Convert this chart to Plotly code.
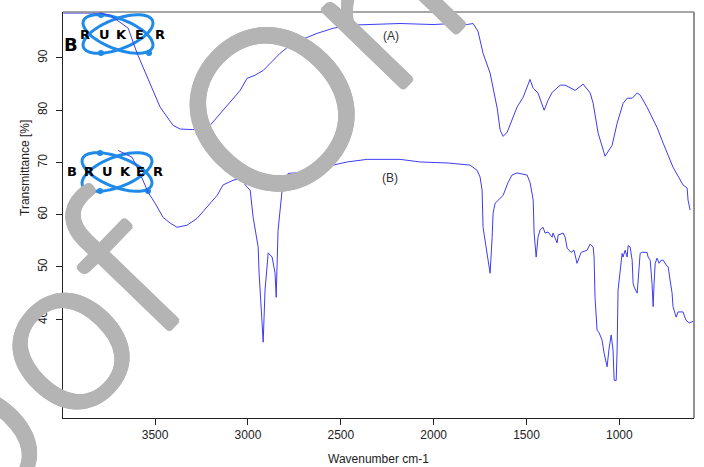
import numpy as np
import plotly.graph_objects as go

# ---- spectrum (A) : wavenumber (cm-1) / transmittance (%) ----
wn_a = [3995, 3900, 3796, 3742, 3645, 3597, 3527, 3473, 3403, 3365, 3300, 3242, 3204,
        3134, 3042, 3005, 2962, 2918, 2865, 2827, 2789, 2719, 2628, 2541, 2434, 2288,
        2181, 2003, 1895, 1820, 1788, 1761, 1734, 1696, 1680, 1658, 1642, 1626, 1604,
        1578, 1551, 1518, 1497, 1481, 1464, 1438, 1405, 1384, 1362, 1319, 1292, 1238,
        1195, 1157, 1141, 1114, 1077, 1039, 1012, 980, 958, 931, 904, 888, 851, 797,
        764, 711, 657, 635, 630, 619]
t_a = [98.6, 98.6, 98.6, 98.2, 95.7, 90.9, 85.2, 80.6, 77.1, 76.4, 76.3, 76.4, 77.1,
       80.0, 83.8, 86.1, 86.7, 87.6, 89.6, 90.9, 92.0, 93.4, 94.7, 95.7, 96.3, 96.4,
       96.6, 96.4, 96.6, 96.4, 96.6, 95.1, 90.9, 87.1, 84.4, 80.4, 76.2, 75.0, 75.8,
       78.1, 80.6, 82.5, 84.4, 85.9, 84.2, 83.3, 80.0, 81.9, 83.4, 84.8, 84.8, 83.8,
       85.0, 83.3, 81.3, 75.6, 71.2, 73.3, 77.5, 81.3, 82.3, 82.3, 83.3, 82.9, 80.6, 76.7,
       73.7, 69.1, 65.7, 65.1, 62.8, 60.9]

# ---- spectrum (B) ----
wn_b = [3699, 3624, 3581, 3538, 3500, 3457, 3419, 3382, 3328, 3274, 3220, 3166, 3134,
        3080, 3032, 3015, 2988, 2972, 2945, 2940, 2924, 2918, 2908, 2891, 2870, 2854,
        2848, 2838, 2816, 2784, 2719, 2628, 2541, 2466, 2358, 2181, 2073, 1922, 1804,
        1766, 1750, 1739, 1734, 1723, 1701, 1696, 1685, 1680, 1669, 1653, 1626, 1599,
        1578, 1551, 1497, 1481, 1464, 1459, 1448, 1438, 1427, 1411, 1400, 1384, 1362,
        1357, 1335, 1330, 1303, 1292, 1281, 1260, 1244, 1228, 1222, 1206, 1174, 1157,
        1141, 1136, 1131, 1120, 1109, 1093, 1082, 1066, 1055, 1044, 1034, 1028, 1017,
        1012, 1007, 996, 985, 980, 969, 958, 953, 942, 931, 926, 921, 904, 899, 888,
        877, 851, 845, 834, 824, 818, 813, 807, 797, 786, 775, 764, 748, 737, 727,
        716, 711, 694, 684, 657, 641, 624, 603]
t_b = [72.3, 71.0, 67.9, 64.3, 62.2, 59.5, 58.4, 57.6, 58.0, 59.3, 61.5, 63.7, 65.7,
       66.6, 67.0, 65.7, 64.7, 59.5, 53.8, 48.8, 39.3, 35.6, 45.6, 52.7, 51.9, 48.8,
       44.2, 57.0, 64.7, 67.9, 68.1, 68.9, 69.5, 70.1, 70.6, 70.6, 70.1, 69.9, 69.5,
       68.5, 67.2, 64.7, 57.6, 55.1, 50.7, 48.8, 55.7, 60.3, 62.2, 62.8, 63.7, 66.2,
       67.6, 68.0, 67.6, 66.2, 62.8, 56.5, 51.9, 55.7, 57.1, 57.6, 56.5, 56.7, 55.7,
       56.5, 54.6, 56.1, 56.5, 55.7, 53.6, 52.8, 53.2, 50.7, 51.3, 52.8, 53.2, 54.4,
       53.8, 51.9, 44.2, 37.9, 37.4, 36.0, 33.5, 30.9, 34.5, 37.0, 34.1, 28.3, 28.3,
       34.1, 45.6, 49.4, 52.6, 51.9, 53.2, 51.9, 54.1, 53.8, 51.3, 46.9, 46.2, 45.0, 46.9, 52.6,
       52.8, 52.8, 51.9, 51.3, 46.9, 42.4, 46.9, 50.7, 51.7, 50.7, 51.3, 51.3, 50.4, 50.0, 47.5,
       45.0, 42.4, 40.4, 41.4, 41.4, 39.8, 39.3, 39.6]

x_ticks = [3500, 3000, 2500, 2000, 1500, 1000]
y_ticks = [40, 50, 60, 70, 80, 90]
x_range = [3996, 598]
y_range = [21.1, 98.8]

W, H = 704, 467
ML, MR, MT, MB = 63, 10, 12, 49
PW, PH = W - ML - MR, H - MT - MB


def paper(xp, yp):
    """Screen pixel -> paper coordinates."""
    return (xp - ML) / PW, (H - MB - yp) / PH


line_col = "#3d3df2"
fig = go.Figure()
fig.add_trace(go.Scatter(x=wn_a, y=t_a, mode="lines", line=dict(color=line_col, width=1),
                         showlegend=False, hoverinfo="skip"))
fig.add_trace(go.Scatter(x=wn_b, y=t_b, mode="lines", line=dict(color=line_col, width=1),
                         showlegend=False, hoverinfo="skip"))

shapes = []
# grey frame on top and right
shapes.append(dict(type="line", xref="paper", yref="paper", x0=0, x1=1, y0=1, y1=1,
                   line=dict(color="#8a8a8a", width=1.5), layer="above"))
shapes.append(dict(type="line", xref="paper", yref="paper", x0=1, x1=1, y0=0, y1=1,
                   line=dict(color="#6e6e6e", width=1.5), layer="above"))


# Bruker atom logos: two tilted orbits with a couple of electrons
def ellipse_path(cx, cy, a, b, phi):
    t = np.linspace(0, 2 * np.pi, 60)
    c, s = np.cos(np.radians(phi)), np.sin(np.radians(phi))
    xs = cx + a * np.cos(t) * c - b * np.sin(t) * s
    ys = cy + a * np.cos(t) * s + b * np.sin(t) * c
    pts = [paper(x, y) for x, y in zip(xs, ys)]
    return "M " + " L ".join(f"{px:.5f},{py:.5f}" for px, py in pts) + " Z"


logo_col = "#1f8ae8"
for cx, cy in [(118, 34), (117, 172)]:
    for phi in (21, -21):
        shapes.append(dict(type="path", xref="paper", yref="paper",
                           path=ellipse_path(cx, cy, 37, 15, phi),
                           line=dict(color=logo_col, width=3), layer="below"))
    for dx, dy in [(-17, 19), (31, 19), (-17, -19)]:
        x0, y0 = paper(cx + dx - 3, cy + dy - 3)
        x1, y1 = paper(cx + dx + 3, cy + dy + 3)
        shapes.append(dict(type="circle", xref="paper", yref="paper",
                           x0=x0, x1=x1, y0=y0, y1=y1, fillcolor=logo_col,
                           line=dict(width=0), layer="below"))

annotations = []


def txt(xp, yp, s, size, color="black", family="Liberation Sans", angle=0, bold=False,
        **font_extra):
    x, y = paper(xp, yp)
    font = dict(family=family, size=size, color=color, **font_extra)
    annotations.append(dict(xref="paper", yref="paper", x=x, y=y, text=f"<b>{s}</b>" if bold else s,
                            showarrow=False, xanchor="center", yanchor="middle", textangle=angle,
                            font=font))


# BRUKER lettering
for ch, xp in zip("RUKER", [85, 104, 121, 139, 160]):
    txt(xp, 34, ch, 13, family="DejaVu Sans", bold=True)
txt(71, 45, "B", 18, family="DejaVu Sans", bold=True)
for ch, xp in zip("BRUKER", [72, 89, 107, 125, 140, 158]):
    txt(xp, 171, ch, 13, family="DejaVu Sans", bold=True)

# spectrum labels
annotations.append(dict(x=2229, y=94.3, xref="x", yref="y", text="(A)", showarrow=False,
                        font=dict(family="Liberation Sans", size=12, color="#333")))
annotations.append(dict(x=2235, y=67.0, xref="x", yref="y", text="(B)", showarrow=False,
                        font=dict(family="Liberation Sans", size=12, color="#333")))

# axis titles
txt(25, 168, "Transmittance [%]", 12, color="#222", angle=-90)
txt(378, 459, "Wavenumber cm-1", 12, color="#222")

# diagonal "Proof Only" stamp, laid out glyph by glyph along a 46 degree baseline;
# a ring of hard shadows thickens the light strokes a little
stamp_col = "#b4b4b4"
ring = ", ".join(f"{3 * np.cos(a):.1f}px {3 * np.sin(a):.1f}px 0 {stamp_col}"
                 for a in np.linspace(0, 2 * np.pi, 12, endpoint=False))
ang = np.radians(46)
ux, uy = np.cos(ang), -np.sin(ang)
stamp = [("P", -690), ("r", -565), ("o", -447), ("o", -314), ("f", -216),
         ("O", 0), ("n", 150), ("l", 250), ("y", 335)]
for ch, s in stamp:
    txt(267 + s * ux, 104 + s * uy, ch, 222, color=stamp_col, family="Lato", angle=-46,
        weight=300, shadow=ring)

fig.update_layout(
    width=W, height=H,
    margin=dict(l=ML, r=MR, t=MT, b=MB, pad=0),
    paper_bgcolor="white", plot_bgcolor="white",
    shapes=shapes, annotations=annotations,
    xaxis=dict(range=x_range, tickvals=x_ticks, ticks="outside", ticklen=6, tickcolor="#222",
               showline=True, linecolor="#222", linewidth=1, showgrid=False, zeroline=False,
               tickfont=dict(family="Liberation Sans", size=12, color="#222")),
    yaxis=dict(range=y_range, tickvals=y_ticks, ticks="outside", ticklen=6, tickcolor="#222",
               showline=True, linecolor="#222", linewidth=1, showgrid=False, zeroline=False,
               tickangle=-90, ticklabelstandoff=4,
               tickfont=dict(family="Liberation Sans", size=12, color="#222")),
)

fig.write_html("out.html")
